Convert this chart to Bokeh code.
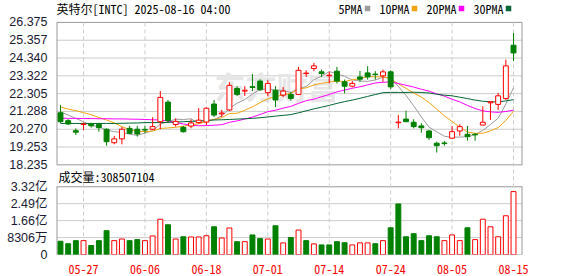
from bokeh.plotting import figure
from bokeh.models import Range1d, FixedTicker, Label, ColumnDataSource, Span
from bokeh.embed import file_html
from bokeh.resources import INLINE

# ---------------- data ----------------
dates = ["05-21", "05-22", "05-23", "05-27", "05-28", "05-29", "05-30",
         "06-02", "06-03", "06-04", "06-05", "06-06", "06-09", "06-10", "06-11", "06-12", "06-13",
         "06-16", "06-17", "06-18", "06-20", "06-23", "06-24", "06-25", "06-26", "06-27", "06-30",
         "07-01", "07-02", "07-03", "07-07", "07-08", "07-09", "07-10", "07-11",
         "07-14", "07-15", "07-16", "07-17", "07-18", "07-21", "07-22", "07-23", "07-24", "07-25",
         "07-28", "07-29", "07-30", "07-31", "08-01", "08-04", "08-05", "08-06", "08-07", "08-08",
         "08-11", "08-12", "08-13", "08-14", "08-15"]
label_dates = ["05-27", "06-06", "06-18", "07-01", "07-14", "07-24", "08-05", "08-15"]

opens = [21.21, 20.76, 20.19, 20.54, 20.57, 20.55, 20.27, 19.50, 19.72, 20.32,
         20.27, 20.26, 20.27, 20.70, 21.82, 20.54, 20.38, 20.45, 20.65, 20.68,
         21.71, 21.15, 21.37, 22.60, 22.45, 22.70, 23.02, 22.36, 22.50, 22.22,
         22.26, 22.26, 23.45, 23.74, 23.55, 23.33, 23.59, 22.98, 22.73, 23.26,
         23.49, 23.42, 23.32, 23.55, 20.64, 20.85, 20.67, 20.46, 20.17, 19.47,
         19.49, 19.76, 20.17, 19.98, 19.99, 20.51, 21.78, 21.69, 22.03, 25.07]
highs = [21.65, 20.85, 20.32, 20.64, 20.64, 20.64, 20.32, 19.89, 20.40, 20.46,
         20.46, 20.48, 20.95, 22.45, 21.94, 20.89, 20.46, 20.83, 21.48, 21.52,
         21.94, 21.37, 22.96, 22.73, 22.73, 23.42, 23.13, 23.07, 22.73, 22.68,
         22.41, 23.83, 23.64, 24.06, 23.68, 23.55, 23.83, 23.11, 23.03, 23.60,
         23.87, 23.59, 23.68, 23.64, 21.08, 21.33, 20.84, 20.61, 20.23, 19.56,
         19.60, 20.46, 20.55, 20.46, 20.04, 21.59, 21.86, 22.35, 24.25, 25.77]
lows = [20.63, 20.51, 19.94, 20.23, 20.36, 20.13, 19.33, 19.41, 19.41, 19.99,
        19.85, 20.03, 20.23, 20.27, 20.63, 20.42, 20.08, 20.33, 20.60, 20.51,
        20.97, 20.97, 21.31, 22.16, 22.17, 22.45, 22.45, 22.16, 21.54, 22.11,
        21.90, 22.22, 23.26, 23.59, 23.26, 22.89, 22.89, 22.32, 22.66, 22.98,
        23.11, 23.11, 22.98, 22.56, 20.32, 20.70, 20.32, 20.07, 19.66, 18.94,
        19.33, 19.72, 19.90, 19.62, 19.62, 20.51, 20.80, 21.37, 21.94, 24.17]
closes = [20.70, 20.57, 20.10, 20.57, 20.47, 20.36, 19.56, 19.72, 20.27, 20.04,
          20.00, 20.22, 20.42, 22.09, 20.77, 20.72, 20.13, 20.63, 20.79, 21.47,
          21.08, 21.20, 22.78, 22.26, 22.50, 22.66, 22.53, 22.89, 21.94, 22.45,
          22.03, 23.64, 23.48, 23.89, 23.46, 23.36, 23.02, 22.73, 22.89, 23.13,
          23.26, 23.40, 23.55, 22.69, 20.68, 20.70, 20.42, 20.36, 19.79, 19.33,
          19.45, 20.13, 20.42, 19.85, 19.95, 20.67, 21.84, 22.18, 23.89, 24.63]

# volume (shares) and its colour flag (1 = red, 0 = green) as drawn
volumes = [65e6, 53e6, 68e6, 68e6, 44e6, 68e6, 117e6, 68e6, 76e6, 68e6,
           73e6, 68e6, 91e6, 173e6, 146e6, 76e6, 87e6, 86e6, 86e6, 92e6,
           136e6, 81e6, 130e6, 63e6, 63e6, 96e6, 78e6, 76e6, 141e6, 57e6,
           83e6, 120e6, 68e6, 52e6, 47e6, 47e6, 63e6, 58e6, 47e6, 57e6,
           57e6, 53e6, 68e6, 131e6, 248e6, 87e6, 102e6, 68e6, 92e6, 87e6,
           68e6, 96e6, 68e6, 131e6, 73e6, 173e6, 136e6, 87e6, 190e6, 308507104]
vol_up = [0, 0, 0, 1, 0, 0, 0, 1, 1, 0, 0, 1, 1, 1, 0, 1, 0, 1, 1, 1,
          0, 1, 1, 0, 1, 0, 0, 1, 0, 1, 0, 1, 0, 1, 0, 0, 0, 0, 1, 1,
          1, 0, 1, 0, 0, 0, 0, 0, 0, 0, 1, 1, 1, 0, 1, 1, 1, 1, 1, 1]

# moving-average values before a full window is visible
ma5_head = [21.27, 21.08, 20.89, 20.70]
ma10_head = [21.54, 21.42, 21.33, 21.22, 21.10, 20.94, 20.80, 20.63, 20.42]
ma20_head = [20.90, 20.89, 20.89, 20.88, 20.88, 20.87, 20.87, 20.86, 20.86, 20.85,
             20.84, 20.83, 20.81, 20.80, 20.74, 20.65, 20.57, 20.50, 20.47]
ma30_head = [20.60, 20.60, 20.60, 20.60, 20.60, 20.60, 20.60, 20.60, 20.61, 20.62,
             20.63, 20.65, 20.65, 20.65, 20.66, 20.68, 20.70, 20.72, 20.74, 20.77,
             20.80, 20.81, 20.83, 20.85, 20.87, 20.89, 20.93, 20.97, 21.02]

y_tick_labels = ["18.235", "19.253", "20.270", "21.288", "22.305", "23.322", "24.340", "25.357", "26.375"]
vol_tick_labels = ["0", "8306万", "1.66亿", "2.49亿", "3.32亿"]
vol_max = 332.24e6

title_text = "英特尔[INTC] 2025-08-16 04:00"
vol_title = "成交量"
ma_names = ["5PMA", "10PMA", "20PMA", "30PMA"]
ma_colors = ["#9c9c9c", "#f2a30f", "#ff00ff", "#006633"]

# ---------------- styling / layout constants ----------------
RED = "#ff0000"
GREEN = "#008000"
MONO = "Noto Sans Mono CJK SC, DejaVu Sans Mono, monospace"
SANS = "Liberation Sans, Noto Sans CJK SC, sans-serif"
LABEL_COLOR = "#1a1a33"
GRID = "#cccccc"
BORDER = "#999999"
W, H = 578, 276
FRAME_L, FRAME_R = 56, 522
PRICE_TOP_PX, PRICE_BOT_PX = 22, 165
VOL_TOP_PX, VOL_BOT_PX = 187, 255

# ---------------- derived ----------------
n = len(closes)
xs = list(range(n))


def rolling(win, head):
    out = list(head)
    for i in range(win - 1, n):
        out.append(sum(closes[i - win + 1:i + 1]) / win)
    return out


mas = [rolling(5, ma5_head), rolling(10, ma10_head), rolling(20, ma20_head), rolling(30, ma30_head)]

up = [c >= o for o, c in zip(opens, closes)]
candle = ColumnDataSource(dict(
    x=xs, o=opens, h=highs, l=lows, c=closes,
    top=[max(o, c) for o, c in zip(opens, closes)],
    bottom=[min(o, c) for o, c in zip(opens, closes)],
    color=[RED if u else GREEN for u in up],
    fill=["white" if u else GREEN for u in up],
))
vol = ColumnDataSource(dict(
    x=xs, v=volumes,
    color=[RED if u else GREEN for u in vol_up],
    fill=["white" if u else GREEN for u in vol_up],
))

x0, x1 = -0.52, 60.17
y_ticks = [float(s) for s in y_tick_labels]
y_lo, y_hi = y_ticks[0], y_ticks[-1]
ppx = (y_hi - y_lo) / (PRICE_BOT_PX - PRICE_TOP_PX)          # price per pixel
main_top = y_hi + PRICE_TOP_PX * ppx                          # price value at canvas y = 0
main_bot = y_hi - (VOL_BOT_PX - PRICE_TOP_PX) * ppx           # price value at frame bottom
vpx = vol_max / (VOL_BOT_PX - VOL_TOP_PX)                     # volume per pixel
vol_top = vol_max + VOL_TOP_PX * vpx                          # volume value at canvas y = 0


def px_to_x(px):
    return x0 + (px - FRAME_L) * (x1 - x0) / (FRAME_R - FRAME_L)


def py_to_y(py):
    return main_top - py * ppx


def vol_to_main(t):
    return main_bot + t / vol_top * (main_top - main_bot)


x_ticks = [dates.index(d) for d in label_dates]
vt = [vol_max * k / (len(vol_tick_labels) - 1) for k in range(len(vol_tick_labels))]
vt_main = [vol_to_main(t) for t in vt]

# ---------------- figure ----------------
p = figure(width=W, height=H, x_range=Range1d(x0, x1), y_range=Range1d(main_bot, main_top),
           output_backend="svg", toolbar_location=None, title=None,
           min_border_left=FRAME_L, min_border_right=W - FRAME_R,
           min_border_top=0, min_border_bottom=H - VOL_BOT_PX)
p.extra_y_ranges = {"vol": Range1d(0, vol_top)}
p.outline_line_color = None
p.background_fill_color = "white"
p.border_fill_color = "white"
p.grid.visible = False

# y axis: price ticks and volume ticks on one axis
all_ticks = y_ticks + vt_main
overrides = {v: s for v, s in zip(y_ticks, y_tick_labels)}
overrides.update({v: s for v, s in zip(vt_main, vol_tick_labels)})
p.yaxis.ticker = FixedTicker(ticks=all_ticks)
p.yaxis.major_label_overrides = overrides
p.yaxis.major_tick_line_color = None
p.yaxis.minor_tick_line_color = None
p.yaxis.axis_line_color = None
p.yaxis.major_label_standoff = 3
p.yaxis.major_label_text_font = SANS
p.yaxis.major_label_text_font_size = "12.5px"
p.yaxis.major_label_text_color = LABEL_COLOR

p.xaxis.ticker = FixedTicker(ticks=x_ticks)
p.xaxis.major_label_overrides = {i: dates[i] for i in x_ticks}
p.xaxis.major_tick_line_color = None
p.xaxis.minor_tick_line_color = None
p.xaxis.axis_line_color = None
p.xaxis.major_label_standoff = 4
p.xaxis.major_label_text_font = MONO
p.xaxis.major_label_text_font_size = "12px"
p.xaxis.major_label_text_color = RED

# horizontal grid lines and box borders (beneath the marks)
for i, t in enumerate(y_ticks):
    edge = i in (0, len(y_ticks) - 1)
    p.add_layout(Span(location=t, dimension="width", line_color=BORDER if edge else GRID,
                      line_width=1, level="underlay"))
for i, t in enumerate(vt):
    edge = i in (0, len(vt) - 1)
    p.add_layout(Span(location=t, dimension="width", y_range_name="vol",
                      line_color=BORDER if edge else GRID, line_width=1, level="underlay"))

# watermark (beneath the marks)
p.add_layout(Label(x=px_to_x(214), y=py_to_y(85), text="东方财富",
                   text_font="Noto Sans CJK SC", text_font_style="bold", text_font_size="31px",
                   text_color="#e6e6e6", text_baseline="middle", level="underlay"))

# vertical borders of the two boxes
for xb in (x0, x1):
    p.segment(x0=xb, y0=y_lo, x1=xb, y1=y_hi, line_color=BORDER, line_width=2)
    p.segment(x0=xb, y0=0, x1=xb, y1=vol_max, line_color=BORDER, line_width=2, y_range_name="vol")
# dashed vertical grid at the labelled dates
p.segment(x0=x_ticks, y0=[y_hi] * len(x_ticks), x1=x_ticks, y1=[main_bot] * len(x_ticks),
          line_color=GRID, line_width=1, line_dash="4 3")

# moving averages
for m, col in zip(mas, ma_colors):
    p.line(xs, m, line_color=col, line_width=1)

# candles
p.segment(x0="x", y0="l", x1="x", y1="h", line_color="color", line_width=1, source=candle)
p.vbar(x="x", top="top", bottom="bottom", width=0.64, fill_color="fill", line_color="color",
       line_width=1, source=candle)

# volume bars
p.vbar(x="x", top="v", bottom=0, width=0.64, fill_color="fill", line_color="color",
       line_width=1, source=vol, y_range_name="vol")

# header texts
p.add_layout(Label(x=px_to_x(56), y=py_to_y(8), text=title_text, text_font=MONO,
                   text_font_size="12px", text_color="black", text_baseline="middle"))
leg_px = 338
for name, col in zip(ma_names, ma_colors):
    p.add_layout(Label(x=px_to_x(leg_px), y=py_to_y(8), text=name, text_font=MONO,
                       text_font_size="12px", text_color="black", text_baseline="middle"))
    sq_px = leg_px + 6 * len(name) + 5
    p.scatter(x=[px_to_x(sq_px)], y=[py_to_y(8)], marker="square", size=5.5,
              fill_color=col, line_color=None)
    leg_px = sq_px + 3 + 9

p.add_layout(Label(x=px_to_x(58), y=py_to_y(177), text=vol_title + ":" + str(int(volumes[-1])),
                   text_font=MONO, text_font_size="12px", text_color="black",
                   text_baseline="middle"))

open("out.html", "w").write(file_html(p, INLINE))
